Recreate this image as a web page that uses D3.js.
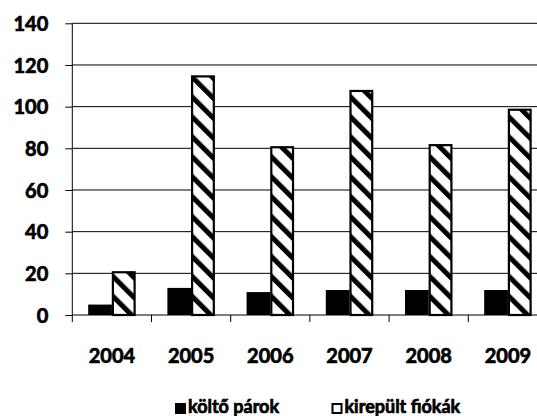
<!DOCTYPE html>
<html>
<head>
<meta charset="utf-8">
<script src="https://cdn.jsdelivr.net/npm/d3@7/dist/d3.min.js"></script>
<style>
  html, body { margin: 0; padding: 0; background: #fff; }
  svg { display: block; }
  text { font-family: Lato, "Open Sans", sans-serif; font-weight: 700; fill: #000;
         stroke: #000; stroke-width: 0.7px; }
</style>
</head>
<body>
<svg id="chart" width="537" height="416"></svg>
<script>
// Breeding pairs and fledged chicks per year
const years = ["2004", "2005", "2006", "2007", "2008", "2009"];
const breedingPairs = [5, 13, 11, 12, 12, 12];
const fledgedChicks = [21, 115, 81, 108, 82, 99];
const seriesNames = ["költő párok", "kirepült fiókák"];
const yTickValues = [0, 20, 40, 60, 80, 100, 120, 140];

const svg = d3.select("#chart");
const W = 537, H = 416;
const plot = { left: 72.3, right: 547.5, top: 23.3, bottom: 315 };

// diagonal stripe fill for the second series
const defs = svg.append("defs");
const pat = defs.append("pattern")
  .attr("id", "stripes")
  .attr("patternUnits", "userSpaceOnUse")
  .attr("width", 14.1).attr("height", 14.1)
  .attr("patternTransform", "rotate(-45)");
pat.append("rect").attr("width", 14.1).attr("height", 14.1).attr("fill", "#fff");
pat.append("rect").attr("width", 5).attr("height", 14.1).attr("fill", "#000");

const x0 = d3.scaleBand().domain(years).range([plot.left, plot.right]).padding(0);
const x1 = d3.scaleBand().domain(seriesNames).range([0, x0.bandwidth()])
  .paddingInner(0).paddingOuter(0.67);
const y = d3.scaleLinear().domain([0, 140]).range([plot.bottom, plot.top]);

// horizontal gridlines
svg.append("g").selectAll("line").data(yTickValues.filter(v => v > 0)).join("line")
  .attr("x1", plot.left).attr("x2", W + 20)
  .attr("y1", d => y(d)).attr("y2", d => y(d))
  .attr("stroke", "#000").attr("stroke-width", 1);

// bars
const rows = years.map((yr, i) => ({ year: yr, values: [breedingPairs[i], fledgedChicks[i]] }));
const groups = svg.append("g").selectAll("g").data(rows).join("g")
  .attr("transform", d => `translate(${x0(d.year)},0)`);

groups.append("rect")
  .attr("x", x1(seriesNames[0]))
  .attr("width", x1.bandwidth())
  .attr("y", d => y(d.values[0]))
  .attr("height", d => y(0) - y(d.values[0]))
  .attr("fill", "#000");

groups.append("rect")
  .attr("x", x1(seriesNames[1]) + 1)
  .attr("width", x1.bandwidth() - 2)
  .attr("y", d => y(d.values[1]) + 1)
  .attr("height", d => y(0) - y(d.values[1]) - 1)
  .attr("fill", "url(#stripes)")
  .attr("stroke", "#000").attr("stroke-width", 2.2);

// y axis
const yAxis = svg.append("g")
  .attr("transform", `translate(${plot.left},0)`)
  .call(d3.axisLeft(y).tickValues(yTickValues).tickSize(7).tickPadding(0).tickFormat(d3.format("d")));
yAxis.select(".domain").attr("stroke", "#000").attr("d", `M0,${plot.top}V${plot.bottom}`);
yAxis.selectAll(".tick line").attr("stroke", "#000");
yAxis.selectAll(".tick text")
  .attr("x", -24).attr("dy", "0.36em")
  .style("font-size", "20px").style("font-family", "Lato, sans-serif").style("font-weight", 700)
  .attr("fill", "#000");

// x axis
const xAxis = svg.append("g")
  .attr("transform", `translate(0,${plot.bottom})`);
xAxis.append("line").attr("x1", plot.left).attr("x2", W + 20)
  .attr("y1", 0).attr("y2", 0).attr("stroke", "#000");
const boundaries = years.map(yr => x0(yr));
xAxis.selectAll("line.tk").data(boundaries).join("line").attr("class", "tk")
  .attr("x1", d => d).attr("x2", d => d).attr("y1", 0).attr("y2", 7)
  .attr("stroke", "#000");
xAxis.selectAll("text").data(years).join("text")
  .attr("x", d => x0(d) + x0.bandwidth() / 2)
  .attr("y", 48)
  .attr("text-anchor", "middle")
  .style("font-size", "20px")
  .text(d => d);

// legend
const legend = svg.append("g");
const legendItems = [
  { name: seriesNames[0], sx: 175, fill: "#000", stroke: "none" },
  { name: seriesNames[1], sx: 331.5, fill: "#fff", stroke: "#000" }
];
const li = legend.selectAll("g").data(legendItems).join("g");
li.append("rect")
  .attr("x", d => d.sx + (d.stroke === "none" ? 0 : 1))
  .attr("y", d => 403 + (d.stroke === "none" ? 0 : 1))
  .attr("width", d => d.stroke === "none" ? 11 : 9)
  .attr("height", d => d.stroke === "none" ? 11 : 9)
  .attr("fill", d => d.fill)
  .attr("stroke", d => d.stroke).attr("stroke-width", 2);
li.append("text")
  .attr("x", d => d.sx + 13)
  .attr("y", 413)
  .style("font-size", "18px")
  .text(d => d.name);
</script>
</body>
</html>
